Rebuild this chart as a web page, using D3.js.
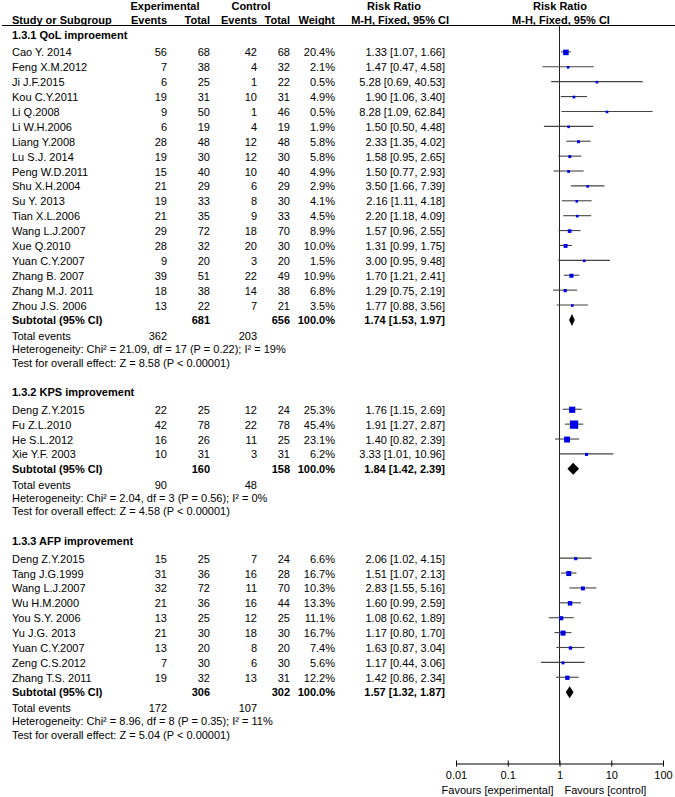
<!DOCTYPE html>
<html>
<head>
<meta charset="utf-8">
<script src="https://cdn.jsdelivr.net/npm/d3@7"></script>
<style>
  body { margin: 0; background: #fff; }
  svg text { font-family: "Liberation Sans", Arial, sans-serif; font-size: 11px; fill: #000; }
</style>
</head>
<body>
<svg id="chart" width="675" height="797"></svg>
<script>
// ---- data ----
// [study, expEvents, expTotal, ctrlEvents, ctrlTotal, weight %, RR, lower, upper]
const qolRows = [
  ["Cao Y. 2014", 56, 68, 42, 68, 20.4, 1.33, 1.07, 1.66],
  ["Feng X.M.2012", 7, 38, 4, 32, 2.1, 1.47, 0.47, 4.58],
  ["Ji J.F.2015", 6, 25, 1, 22, 0.5, 5.28, 0.69, 40.53],
  ["Kou C.Y.2011", 19, 31, 10, 31, 4.9, 1.90, 1.06, 3.40],
  ["Li Q.2008", 9, 50, 1, 46, 0.5, 8.28, 1.09, 62.84],
  ["Li W.H.2006", 6, 19, 4, 19, 1.9, 1.50, 0.50, 4.48],
  ["Liang Y.2008", 28, 48, 12, 48, 5.8, 2.33, 1.35, 4.02],
  ["Lu S.J. 2014", 19, 30, 12, 30, 5.8, 1.58, 0.95, 2.65],
  ["Peng W.D.2011", 15, 40, 10, 40, 4.9, 1.50, 0.77, 2.93],
  ["Shu X.H.2004", 21, 29, 6, 29, 2.9, 3.50, 1.66, 7.39],
  ["Su Y. 2013", 19, 33, 8, 30, 4.1, 2.16, 1.11, 4.18],
  ["Tian X.L.2006", 21, 35, 9, 33, 4.5, 2.20, 1.18, 4.09],
  ["Wang L.J.2007", 29, 72, 18, 70, 8.9, 1.57, 0.96, 2.55],
  ["Xue Q.2010", 28, 32, 20, 30, 10.0, 1.31, 0.99, 1.75],
  ["Yuan C.Y.2007", 9, 20, 3, 20, 1.5, 3.00, 0.95, 9.48],
  ["Zhang B. 2007", 39, 51, 22, 49, 10.9, 1.70, 1.21, 2.41],
  ["Zhang M.J. 2011", 18, 38, 14, 38, 6.8, 1.29, 0.75, 2.19],
  ["Zhou J.S. 2006", 13, 22, 7, 21, 3.5, 1.77, 0.88, 3.56]
];
const kpsRows = [
  ["Deng Z.Y.2015", 22, 25, 12, 24, 25.3, 1.76, 1.15, 2.69],
  ["Fu Z.L.2010", 42, 78, 22, 78, 45.4, 1.91, 1.27, 2.87],
  ["He S.L.2012", 16, 26, 11, 25, 23.1, 1.40, 0.82, 2.39],
  ["Xie Y.F. 2003", 10, 31, 3, 31, 6.2, 3.33, 1.01, 10.96]
];
const afpRows = [
  ["Deng Z.Y.2015", 15, 25, 7, 24, 6.6, 2.06, 1.02, 4.15],
  ["Tang J.G.1999", 31, 36, 16, 28, 16.7, 1.51, 1.07, 2.13],
  ["Wang L.J.2007", 32, 72, 11, 70, 10.3, 2.83, 1.55, 5.16],
  ["Wu H.M.2000", 21, 36, 16, 44, 13.3, 1.60, 0.99, 2.59],
  ["You S.Y. 2006", 13, 25, 12, 25, 11.1, 1.08, 0.62, 1.89],
  ["Yu J.G. 2013", 21, 30, 18, 30, 16.7, 1.17, 0.80, 1.70],
  ["Yuan C.Y.2007", 13, 20, 8, 20, 7.4, 1.63, 0.87, 3.04],
  ["Zeng C.S.2012", 7, 30, 6, 30, 5.6, 1.17, 0.44, 3.06],
  ["Zhang T.S. 2011", 19, 32, 13, 31, 12.2, 1.42, 0.86, 2.34]
];
const groupTitles = ["1.3.1 QoL improement", "1.3.2 KPS improvement", "1.3.3 AFP improvement"];
// [expTotal, ctrlTotal, RR, lower, upper, expEvents, ctrlEvents]
const subtotals = [
  [681, 656, 1.74, 1.53, 1.97, 362, 203],
  [160, 158, 1.84, 1.42, 2.39, 90, 48],
  [306, 302, 1.57, 1.32, 1.87, 172, 107]
];
const heterogeneity = [
  "Heterogeneity: Chi\u00B2 = 21.09, df = 17 (P = 0.22); I\u00B2 = 19%",
  "Heterogeneity: Chi\u00B2 = 2.04, df = 3 (P = 0.56); I\u00B2 = 0%",
  "Heterogeneity: Chi\u00B2 = 8.96, df = 8 (P = 0.35); I\u00B2 = 11%"
];
const overallTests = [
  "Test for overall effect: Z = 8.58 (P < 0.00001)",
  "Test for overall effect: Z = 4.58 (P < 0.00001)",
  "Test for overall effect: Z = 5.04 (P < 0.00001)"
];
const tickValues = [0.01, 0.1, 1, 10, 100];
const tickLabels = ["0.01", "0.1", "1", "10", "100"];
const favourLabels = ["Favours [experimental]", "Favours [control]"];

// ---- layout ----
const svg = d3.select("#chart");
const x = d3.scaleLog().domain([0.01, 100]).range([456, 663]);
const col = { name: 12, eE: 167, eT: 210, cE: 257, cT: 290, w: 335, ci: 445 };
const lineH = 14.89, firstY = 35;
const adj = { header: 0, study: 2.5, subtotal: 2, total: 3, het: 1, test: 0 };

const lines = [];
const groups = [qolRows, kpsRows, afpRows];
groups.forEach((rows, g) => {
  lines.push({ kind: "header", g });
  rows.forEach(r => lines.push({ kind: "study", r, g }));
  lines.push({ kind: "subtotal", g });
  lines.push({ kind: "total", g });
  lines.push({ kind: "het", g });
  lines.push({ kind: "test", g });
  if (g < groups.length - 1) lines.push({ kind: "blank", g });
});
lines.forEach((l, i) => { l.y = firstY + i * lineH + (adj[l.kind] || 0); });

const fmt2 = d3.format(".2f");
const ciText = (rr, lo, hi) => `${fmt2(rr)} [${fmt2(lo)}, ${fmt2(hi)}]`;

function txt(xp, y, s, anchor, bold) {
  svg.append("text").attr("x", xp).attr("y", y + 4)
    .attr("text-anchor", anchor || "start")
    .attr("font-weight", bold ? "bold" : "normal")
    .text(s);
}

// header
const hdr1 = 9.5 - 4, hdr2 = 24 - 4;
txt(165, hdr1, "Experimental", "middle", true);
txt(251, hdr1, "Control", "middle", true);
txt(394, hdr1, "Risk Ratio", "middle", true);
txt(560, hdr1, "Risk Ratio", "middle", true);
txt(col.name, hdr2, "Study or Subgroup", "start", true);
txt(col.eE, hdr2, "Events", "end", true);
txt(col.eT, hdr2, "Total", "end", true);
txt(col.cE, hdr2, "Events", "end", true);
txt(col.cT, hdr2, "Total", "end", true);
txt(col.w, hdr2, "Weight", "end", true);
txt(449, hdr2, "M-H, Fixed, 95% CI", "end", true);
txt(561, hdr2, "M-H, Fixed, 95% CI", "middle", true);
svg.append("line").attr("x1", 2).attr("x2", 675).attr("y1", 25.5).attr("y2", 25.5)
  .attr("stroke", "#000").attr("stroke-width", 1);

// axis y
const axisY = 763.5;
// reference line at RR = 1
svg.append("line").attr("x1", x(1)).attr("x2", x(1)).attr("y1", 26).attr("y2", axisY)
  .attr("stroke", "#222").attr("stroke-width", 1);

lines.forEach(l => {
  const y = l.y;
  const st = subtotals[l.g];
  if (l.kind === "header") txt(col.name, y, groupTitles[l.g], "start", true);
  if (l.kind === "study") {
    const r = l.r;
    txt(col.name, y, r[0]);
    txt(col.eE, y, r[1], "end");
    txt(col.eT, y, r[2], "end");
    txt(col.cE, y, r[3], "end");
    txt(col.cT, y, r[4], "end");
    txt(col.w, y, r[5].toFixed(1) + "%", "end");
    txt(col.ci, y, ciText(r[6], r[7], r[8]), "end");
    svg.append("line").attr("x1", x(r[7])).attr("x2", x(r[8]))
      .attr("y1", y - 0.5).attr("y2", y - 0.5)
      .attr("stroke", "#444").attr("stroke-width", 1.1);
    const s = Math.max(2.6, 1.23 * Math.sqrt(r[5]));
    svg.append("rect").attr("x", x(r[6]) - s / 2).attr("y", y - s / 2)
      .attr("width", s).attr("height", s).attr("fill", "#0000e6");
  }
  if (l.kind === "subtotal") {
    txt(col.name, y, "Subtotal (95% CI)", "start", true);
    txt(col.eT, y, st[0], "end", true);
    txt(col.cT, y, st[1], "end", true);
    txt(col.w, y, "100.0%", "end", true);
    txt(col.ci, y, ciText(st[2], st[3], st[4]), "end", true);
    const h = 6;
    const pts = [[x(st[3]), y], [x(st[2]), y - h], [x(st[4]), y], [x(st[2]), y + h]];
    svg.append("path").attr("d", d3.line()(pts) + "Z").attr("fill", "#000");
  }
  if (l.kind === "total") {
    txt(col.name, y, "Total events");
    txt(col.eE, y, st[5], "end");
    txt(col.cE, y, st[6], "end");
  }
  if (l.kind === "het") txt(col.name, y, heterogeneity[l.g]);
  if (l.kind === "test") txt(col.name, y, overallTests[l.g]);
});

// axis
const axis = d3.axisBottom(x).tickValues(tickValues)
  .tickFormat((d, i) => tickLabels[i]).tickSizeInner(3).tickSizeOuter(0).tickPadding(5);
const ag = svg.append("g").attr("transform", `translate(0,${axisY})`).call(axis);
ag.select(".domain").attr("stroke", "#000");
ag.selectAll(".tick line").attr("y1", -3).attr("y2", 3).attr("stroke", "#000");
ag.selectAll(".tick text").attr("font-family", null).attr("font-size", null).style("font-size", "11px");

txt(x(1) - 6, 790, favourLabels[0], "end");
txt(x(1) + 5, 790, favourLabels[1], "start");
</script>
</body>
</html>
